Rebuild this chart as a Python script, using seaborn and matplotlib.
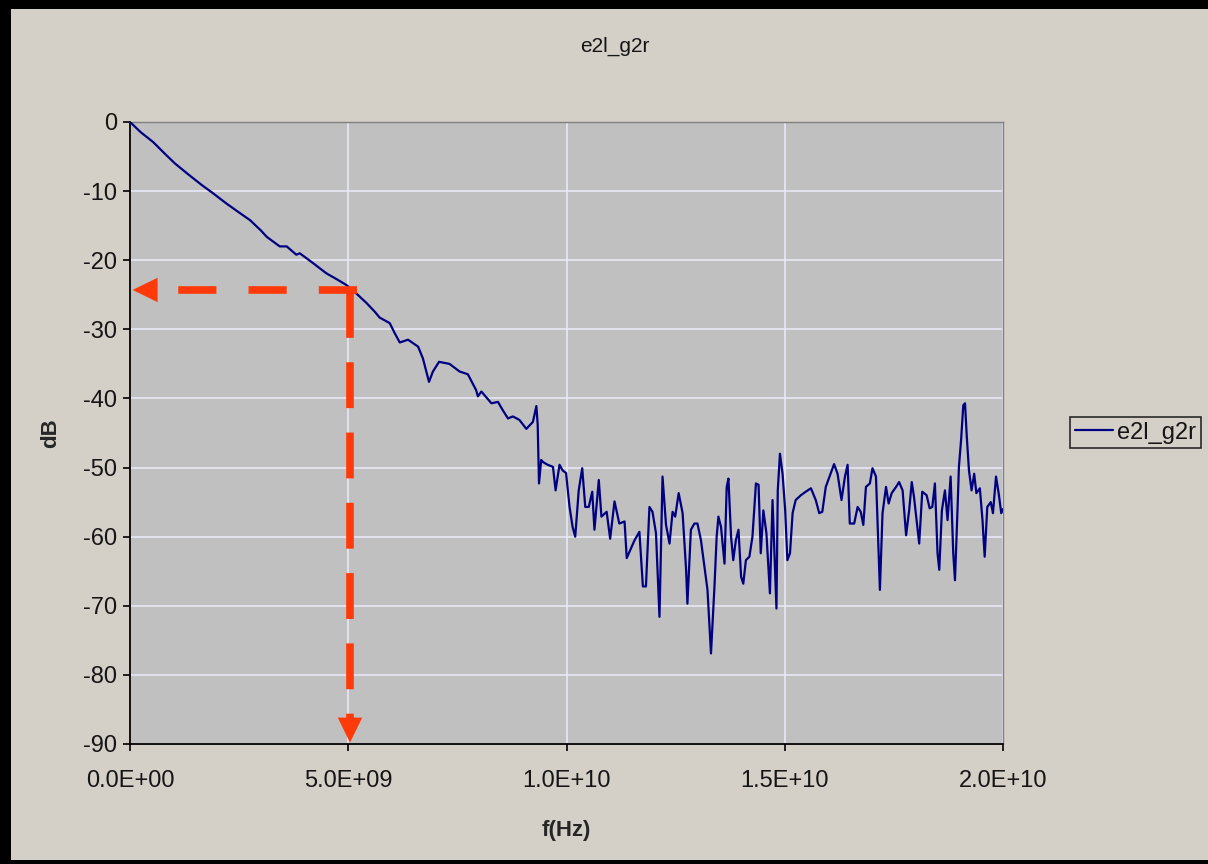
import matplotlib
matplotlib.use("Agg")
import matplotlib.pyplot as plt
from matplotlib.patches import Rectangle
from matplotlib.ticker import FuncFormatter
import numpy as np
import pandas as pd
import seaborn as sns

# Insertion loss trace of e2l_g2r (frequency in GHz, loss in dB)
freq_ghz = [
    0.0, 0.25, 0.53, 0.8, 1.03, 1.3, 1.64, 1.9, 2.21, 2.5, 2.75, 3.0, 3.13, 3.43, 3.59,
    3.7, 3.81, 3.89, 4.19, 4.5, 4.75, 4.96, 5.2, 5.42, 5.6, 5.72, 5.95, 6.06, 6.18, 6.37,
    6.6, 6.71, 6.85, 6.94, 7.08, 7.32, 7.55, 7.74, 7.93, 7.97, 8.05, 8.28, 8.43, 8.54, 8.66,
    8.77, 8.92, 9.08, 9.23, 9.31, 9.34, 9.37, 9.42, 9.46, 9.57, 9.69, 9.75, 9.84, 9.91, 9.99,
    10.07, 10.14, 10.2, 10.28, 10.36, 10.43, 10.51, 10.59, 10.64, 10.74, 10.8, 10.92, 11.0, 11.1, 11.21,
    11.33, 11.38, 11.56, 11.67, 11.75, 11.82, 11.9, 11.97, 12.05, 12.13, 12.2, 12.28, 12.36, 12.43, 12.49,
    12.57, 12.66, 12.74, 12.77, 12.85, 12.93, 13.0, 13.08, 13.16, 13.23, 13.31, 13.39, 13.44, 13.48, 13.54,
    13.62, 13.67, 13.71, 13.77, 13.82, 13.88, 13.94, 14.0, 14.05, 14.11, 14.19, 14.26, 14.34, 14.4, 14.45,
    14.51, 14.58, 14.66, 14.72, 14.81, 14.84, 14.89, 14.95, 15.01, 15.06, 15.12, 15.18, 15.25, 15.37, 15.48,
    15.6, 15.71, 15.79, 15.86, 15.94, 16.05, 16.13, 16.21, 16.3, 16.38, 16.44, 16.49, 16.59, 16.67, 16.74,
    16.8, 16.86, 16.95, 17.01, 17.09, 17.18, 17.24, 17.32, 17.38, 17.45, 17.55, 17.62, 17.7, 17.78, 17.85,
    17.91, 17.96, 18.02, 18.08, 18.15, 18.25, 18.32, 18.38, 18.44, 18.5, 18.54, 18.6, 18.67, 18.73, 18.8,
    18.86, 18.9, 18.96, 18.99, 19.04, 19.09, 19.13, 19.17, 19.22, 19.28, 19.34, 19.39, 19.47, 19.53, 19.58,
    19.64, 19.72, 19.77, 19.84, 19.9, 19.96, 20.0,
]
loss_db = [
    0.0, -1.5, -2.9, -4.6, -6.0, -7.4, -9.1, -10.3, -11.8, -13.1, -14.2, -15.7, -16.6, -18.0, -18.0,
    -18.6, -19.2, -19.0, -20.4, -21.9, -22.8, -23.6, -24.9, -26.2, -27.4, -28.3, -29.1, -30.5, -31.9, -31.5,
    -32.5, -34.2, -37.6, -36.1, -34.7, -35.0, -36.1, -36.5, -38.8, -39.7, -39.0, -40.7, -40.5, -41.7, -42.9,
    -42.6, -43.1, -44.4, -43.4, -41.1, -43.8, -52.3, -48.9, -49.2, -49.6, -49.9, -53.3, -49.6, -50.4, -50.8,
    -55.7, -58.6, -60.0, -53.3, -50.1, -55.7, -55.7, -53.5, -59.0, -51.8, -57.1, -56.4, -60.3, -54.9, -58.1,
    -57.8, -63.1, -60.5, -59.3, -67.2, -67.2, -55.7, -56.4, -59.5, -71.6, -51.3, -58.3, -61.0, -56.4, -57.1,
    -53.7, -56.6, -64.8, -69.7, -59.0, -58.1, -58.1, -60.5, -64.4, -67.7, -76.9, -67.2, -60.0, -57.1, -58.6,
    -63.9, -52.8, -51.6, -60.0, -63.4, -60.5, -59.0, -65.8, -66.8, -63.4, -62.9, -60.0, -52.3, -52.5, -62.4,
    -56.2, -59.5, -68.2, -54.7, -70.4, -53.3, -48.0, -50.9, -56.2, -63.4, -62.4, -56.6, -54.7, -54.0, -53.5,
    -53.0, -54.7, -56.6, -56.4, -52.8, -50.9, -49.5, -50.9, -54.7, -51.3, -49.6, -58.1, -58.1, -55.7, -56.4,
    -58.3, -52.8, -52.3, -50.1, -51.3, -67.7, -56.6, -52.8, -55.2, -53.7, -52.8, -52.1, -53.3, -59.8, -56.2,
    -52.1, -54.2, -57.6, -61.0, -53.5, -54.0, -55.9, -55.7, -52.3, -62.4, -64.8, -56.2, -53.3, -57.6, -51.3,
    -62.4, -66.3, -55.7, -49.9, -46.0, -41.0, -40.7, -45.5, -50.4, -53.3, -50.9, -53.7, -53.0, -57.6, -62.9,
    -55.7, -55.0, -56.6, -51.3, -53.7, -56.6, -56.0,
]
series_name = "e2l_g2r"

# Reading taken at 5 GHz
marker_freq = 5.0e9
marker_db = -24.3

x_ticks = [0.0, 5.0e9, 1.0e10, 1.5e10, 2.0e10]
y_ticks = [0, -10, -20, -30, -40, -50, -60, -70, -80, -90]

df = pd.DataFrame({"f": np.array(freq_ghz) * 1e9, "dB": loss_db})

sns.set_style("white")
plt.rcParams["font.family"] = ["Liberation Sans", "DejaVu Sans"]

W, H = 1208, 864
fig = plt.figure(figsize=(W / 100, H / 100), dpi=100, facecolor="#d4d0c8")
ax = fig.add_axes([130 / W, 1 - 744 / H, 873 / W, 622 / H])
ax.set_facecolor("#c0c0c0")

sns.lineplot(data=df, x="f", y="dB", ax=ax, estimator=None, sort=False,
             color="#000080", lw=1.6, label=series_name, zorder=3)

ax.set_xlim(x_ticks[0], x_ticks[-1])
ax.set_ylim(y_ticks[-1], y_ticks[0])
ax.set_xticks(x_ticks)
ax.set_yticks(y_ticks)
ax.xaxis.set_major_formatter(FuncFormatter(lambda v, p: f"{v:.1E}"))
ax.yaxis.set_major_formatter(FuncFormatter(lambda v, p: f"{v:.0f}"))
ax.grid(True, color="#e8e8f8", lw=1.2, zorder=0)
ax.set_axisbelow(True)

for side in ("top", "right"):
    ax.spines[side].set_color("#808080")
    ax.spines[side].set_linewidth(1.0)
for side in ("left", "bottom"):
    ax.spines[side].set_color("black")
    ax.spines[side].set_linewidth(1.3)

ax.tick_params(axis="both", direction="out", length=5, width=1.2, color="black",
               labelsize=17, labelcolor="#151515")
ax.tick_params(axis="x", pad=14)
ax.tick_params(axis="y", pad=4)
ax.xaxis.set_ticks_position("bottom")
ax.yaxis.set_ticks_position("left")

ax.set_xlabel("f(Hz)", fontsize=16, fontweight="bold", labelpad=20)
ax.set_ylabel("dB", fontsize=16, fontweight="bold", labelpad=16)
fig.text(615 / W, 1 - 46 / H, "e2l_g2r", ha="center", va="center", fontsize=15, color="#151515")

# Dashed red markers from the 5 GHz reading to both axes
red = "#ff3a0a"
ax.plot([marker_freq + 0.2e9, 0.62e9], [marker_db, marker_db], color=red, lw=5.5,
        dashes=(5, 4.2), solid_capstyle="butt", dash_capstyle="butt", zorder=5)
ax.plot([marker_freq + 0.04e9, marker_freq + 0.04e9], [marker_db - 0.3, -86.2], color=red, lw=5.5,
        dashes=(6, 3.2), solid_capstyle="butt", dash_capstyle="butt", zorder=5)
head = dict(arrowstyle="-|>,head_length=0.45,head_width=0.22", mutation_scale=40,
            color=red, lw=0, shrinkA=0, shrinkB=0)
ax.annotate("", xy=(0.06e9, marker_db), xytext=(0.65e9, marker_db), arrowprops=head, zorder=6)
ax.annotate("", xy=(marker_freq + 0.04e9, -89.8), xytext=(marker_freq + 0.04e9, -86.0),
            arrowprops=head, zorder=6)

leg = ax.legend(loc="upper left", bbox_to_anchor=(1070 / W, 1 - 417 / H),
                bbox_transform=fig.transFigure, fontsize=17, frameon=True,
                fancybox=False, borderpad=0.2, handlelength=1.6, handletextpad=0.2,
                borderaxespad=0)
leg.get_frame().set_edgecolor("black")
leg.get_frame().set_linewidth(1.2)
leg.get_frame().set_facecolor("#d4d0c8")
for t in leg.get_texts():
    t.set_color("#151515")

# Window frame along the left, top and bottom edges
for (x0, y0, w, h) in [(0, 0, 11, H), (0, H - 9, W, 9), (0, 0, W, 4)]:
    fig.add_artist(Rectangle((x0 / W, y0 / H), w / W, h / H, transform=fig.transFigure,
                             color="black", lw=0, zorder=10))

fig.savefig("out.png", dpi=100, facecolor=fig.get_facecolor())
